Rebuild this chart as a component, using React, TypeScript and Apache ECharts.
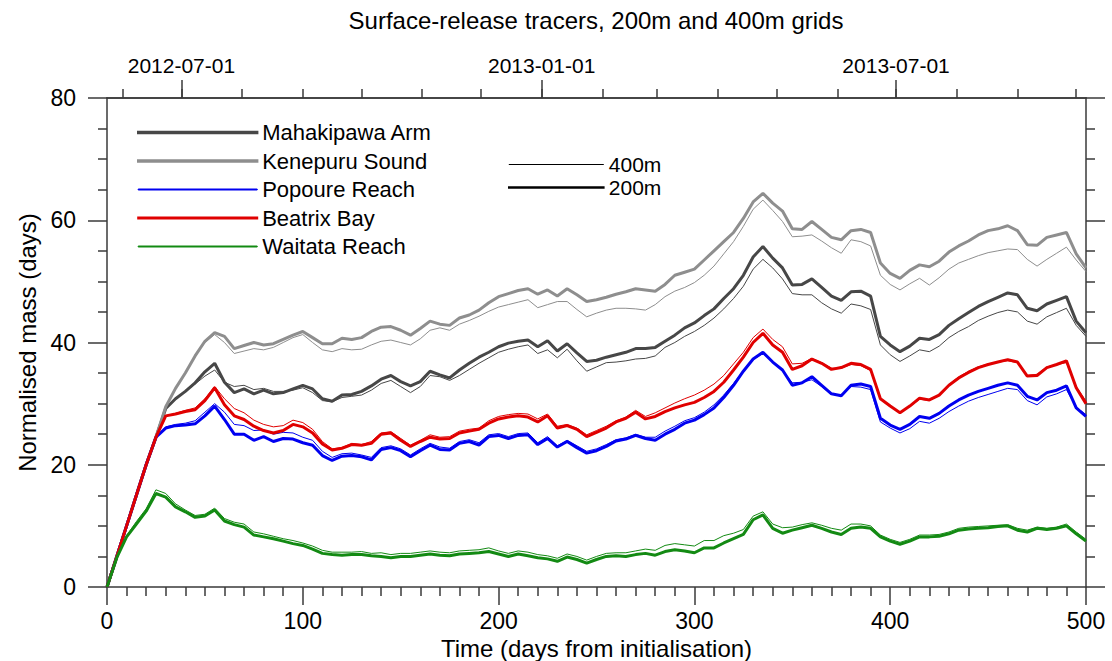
import { useEffect, useRef } from 'react';
import * as echarts from 'echarts';

// Sampling step of the tracer-mass records (days since initialisation).
const STEP = 5;

const REGIONS = ['Mahakipawa Arm', 'Kenepuru Sound', 'Popoure Reach', 'Beatrix Bay', 'Waitata Reach'];
const COLORS = ['#474747', '#8e8e8e', '#0000f0', '#e00000', '#138a13'];
const LEGEND_THICKNESS = [3.4, 3.4, 2, 3, 2];

// Normalised tracer mass (days), 200 m grid.
const MAHAKIPAWA_200 = [0, 5, 10, 15, 20, 24.5, 29.2, 30.8, 32, 33.4, 35.2, 36.6, 33.5, 31.8, 32.4, 31.6, 32.2, 31.6, 31.8, 32.4, 33, 32.4, 30.8, 30.4, 31.4, 31.5, 32, 32.9, 34, 34.6, 33.6, 32.9, 33.6, 35.3, 34.7, 34.2, 35.5, 36.6, 37.6, 38.4, 39.3, 39.9, 40.2, 40.4, 39.3, 40.3, 38.6, 39.8, 38.3, 36.9, 37.1, 37.6, 38, 38.4, 39, 39, 39.2, 40.2, 41.2, 42.4, 43.2, 44.4, 45.5, 47.2, 48.8, 51, 54, 55.7, 53.8, 52.2, 49.4, 49.5, 50.4, 49, 47.6, 46.9, 48.3, 48.4, 47.6, 41, 39.6, 38.5, 39.4, 40.7, 40.5, 41.3, 42.8, 43.9, 44.9, 45.9, 46.7, 47.4, 48.1, 47.8, 45.6, 45.2, 46.3, 46.9, 47.5, 43.5, 41.6];
const KENEPURU_200 = [0, 5, 10, 15, 20, 24.5, 29.5, 32.5, 35, 37.8, 40.2, 41.6, 41, 39, 39.5, 40, 39.6, 39.8, 40.5, 41.2, 41.8, 40.8, 39.8, 39.8, 40.7, 40.5, 40.8, 41.8, 42.5, 42.6, 42, 41.2, 42.3, 43.5, 43, 42.8, 44, 44.5, 45.3, 46.5, 47.5, 48, 48.5, 48.8, 47.9, 48.6, 47.6, 48.8, 47.8, 46.7, 47, 47.4, 47.9, 48.3, 48.8, 48.6, 48.4, 49.5, 51, 51.5, 52, 53.5, 55, 56.5, 58, 60.3, 63, 64.4, 62.8, 61.5, 58.6, 58.5, 59.8, 58.5, 57.2, 56.8, 58.3, 58.5, 58, 53, 51.3, 50.5, 51.8, 52.7, 52.4, 53.3, 54.8, 55.8, 56.6, 57.6, 58.3, 58.6, 59.1, 58.3, 56, 55.9, 57.2, 57.6, 58, 54.5, 52.2];
const POPOURE_200 = [0, 5, 10, 15, 20, 24.5, 26, 26.4, 26.5, 26.7, 28, 29.6, 27.4, 25, 25, 24, 24.6, 23.8, 24.3, 24.2, 23.6, 23.2, 21.5, 20.7, 21.4, 21.5, 21.3, 20.8, 22.5, 22.8, 22.3, 21.3, 22.3, 23.2, 22.5, 22.4, 23.5, 23.8, 23.2, 24.6, 24.8, 24.3, 24.8, 24.9, 23.3, 24.3, 22.9, 23.8, 22.8, 21.9, 22.3, 23, 23.9, 24.2, 24.8, 24.3, 24, 25, 25.8, 26.8, 27.3, 28.2, 29.3, 31, 33, 35.3, 37.3, 38.4, 36.8, 35.5, 33, 33.4, 34.4, 33, 31.6, 31.3, 33, 33.2, 32.8, 27.6, 26.5, 25.8, 26.6, 27.9, 27.6, 28.4, 29.6, 30.6, 31.4, 32, 32.5, 33, 33.4, 33, 31.2, 30.6, 31.8, 32.2, 32.9, 29.3, 27.9];
const BEATRIX_200 = [0, 5, 10, 15, 20, 24.5, 28, 28.3, 28.7, 29, 30.5, 32.6, 29.8, 28, 27.4, 26.3, 25.6, 25.2, 25.6, 26.6, 26.2, 25.2, 23.4, 22.4, 22.7, 23.3, 23.2, 23.5, 25, 25.2, 24, 23, 23.8, 24.5, 24.2, 24.3, 25.2, 25.5, 25.8, 26.8, 27.5, 27.8, 28, 27.8, 27, 28, 26, 26.4, 25.8, 24.6, 25.3, 26, 27, 27.6, 28.6, 27.5, 27.9, 28.7, 29.3, 29.8, 30.2, 31, 32, 33.5, 35.5, 37.6, 40, 41.5, 39.6, 38.4, 35.6, 36.2, 37.3, 36.6, 35.6, 35.9, 36.6, 36.4, 35.6, 30.8, 29.6, 28.5, 29.6, 30.9, 30.6, 31.4, 33, 34.2, 35.1, 35.9, 36.4, 36.8, 37.2, 36.8, 34.5, 34.6, 35.9, 36.4, 37, 32.6, 30];
const WAITATA_200 = [0, 4.8, 8.2, 10.3, 12.4, 15.3, 14.7, 13.1, 12.3, 11.4, 11.6, 12.6, 10.8, 10.2, 9.8, 8.5, 8.2, 7.9, 7.5, 7.1, 6.8, 6.2, 5.5, 5.3, 5.2, 5.3, 5.3, 5.1, 5, 4.8, 5, 5, 5.2, 5.4, 5.2, 5.1, 5.4, 5.5, 5.6, 5.8, 5.4, 5, 5.4, 5.1, 4.8, 4.6, 4.2, 4.9, 4.5, 3.9, 4.5, 5, 5.1, 5, 5.3, 5.5, 5.2, 5.8, 6.1, 5.9, 5.6, 6.4, 6.4, 7.2, 7.9, 8.6, 11, 11.8, 9.6, 8.8, 9.3, 9.7, 10.1, 9.6, 9, 8.6, 9.6, 9.8, 9.6, 8.2, 7.5, 7, 7.5, 8.2, 8.2, 8.3, 8.7, 9.3, 9.5, 9.6, 9.7, 9.9, 10, 9.3, 9, 9.6, 9.4, 9.6, 10, 8.7, 7.5];

// Normalised tracer mass (days), 400 m grid.
const MAHAKIPAWA_400 = [0, 5, 10, 15, 20, 24.5, 29.2, 30.8, 32, 33.2, 34.5, 35.5, 33.5, 32.8, 33, 32.3, 32.5, 32, 32, 32.2, 32.6, 31.8, 30.5, 30.3, 31, 31.2, 31.4, 32.2, 33.3, 33.8, 32.8, 31.8, 32.8, 34.6, 34.4, 33.8, 34.6, 35.6, 36.6, 37.5, 38.4, 38.9, 39.3, 39.6, 38.2, 38.8, 37.5, 38.9, 37, 35.3, 36, 36.7, 36.8, 37, 37.3, 37.4, 37.8, 39.2, 40, 41, 41.8, 42.8, 44, 45.5, 47.2, 49.2, 52, 53.6, 52.2, 50.4, 48, 47.8, 47.8, 46.5, 45.5, 44.8, 46.3, 46, 45.4, 39.6, 38, 36.9, 37.8, 38.8, 38.5, 39.4, 40.8, 41.8, 42.6, 43.6, 44.3, 44.9, 45.3, 45, 43.5, 43, 44.2, 44.9, 45.6, 42.8, 41];
const KENEPURU_400 = [0, 5, 10, 15, 20, 24.5, 29.5, 32.5, 35, 37.8, 40, 41.3, 40, 38.2, 38.6, 39, 38.8, 39.2, 40, 40.8, 41.3, 40, 38.8, 38.5, 39, 38.8, 38.9, 39.6, 40.2, 40.4, 40, 39.6, 40.6, 42, 42.4, 42, 43, 43.6, 44.3, 45.1, 45.8, 46.2, 46.6, 47, 45.7, 46.2, 46.7, 46.7, 45.4, 44.2, 44.8, 45.3, 45.6, 45.6, 45.5, 45.3, 46.2, 47.5, 48.4, 49, 49.8, 51, 52.5, 54.5, 56.5, 59, 61.8, 63.3, 61.6, 59.8, 57.3, 57.4, 57.6, 56.6, 55.5, 54.6, 56.8, 56.5, 55.8, 51, 49.5, 48.6, 49.6, 50.5, 49.4, 50.6, 52, 53, 53.6, 54.2, 54.7, 55, 55.3, 55.2, 53.6, 52.5, 53.6, 54.6, 55.6, 53.5, 51.6];
const POPOURE_400 = [0, 5, 10, 15, 20, 24.5, 26.2, 26.6, 26.8, 27.2, 28.6, 30, 28.6, 26.6, 26.4, 25.6, 25.7, 25, 25.3, 25.2, 24.5, 24, 22.2, 21.2, 21.8, 21.9, 21.6, 21.2, 22.8, 23.1, 22.6, 21.6, 22.6, 23.5, 22.9, 22.7, 23.8, 24.1, 23.6, 24.9, 25.1, 24.6, 25.1, 25.2, 23.6, 24.6, 23.1, 24, 23.1, 22.2, 22.6, 23.3, 24.1, 24.4, 25, 24.5, 24.5, 25.5, 26.3, 27.2, 27.7, 28.6, 29.8, 31.4, 33.3, 35.4, 37.2, 38.2, 36.9, 35.4, 33.4, 33.5, 33.9, 32.8, 31.5, 31.5, 32.8, 32.7, 32.3, 27, 26, 25.2, 25.9, 27.1, 26.8, 27.6, 28.7, 29.6, 30.4, 31, 31.5, 32, 32.5, 32.3, 30.5, 29.8, 31.1, 31.6, 32.3, 29.4, 28.2];
const BEATRIX_400 = [0, 5, 10, 15, 20, 24.5, 28, 28.4, 28.9, 29.3, 30.8, 32.8, 30.8, 29.2, 28.5, 27.3, 26.6, 26.2, 26.4, 27.3, 26.9, 25.8, 23.8, 22.6, 22.8, 23.5, 23.3, 23.8, 25.2, 25.4, 24.3, 23.2, 24, 24.9, 24.5, 24.6, 25.5, 25.8, 26, 27.2, 27.9, 28.2, 28.4, 28.3, 27.5, 28.3, 26.3, 26.6, 26, 24.9, 25.6, 26.3, 27.2, 27.8, 28.9, 27.9, 28.5, 29.3, 30.1, 30.8, 31.4, 32.2, 33.2, 34.6, 36.5, 38.4, 40.8, 42.2, 40.5, 39.3, 36.5, 36.6, 37.4, 36.7, 35.8, 35.8, 36.4, 36.2, 35.4, 30.9, 29.5, 28.5, 29.5, 30.7, 30.5, 31.5, 33.1, 34.4, 35.3, 36, 36.5, 36.8, 37, 36.7, 34.6, 34.8, 36, 36.4, 36.7, 32.8, 30.4];
const WAITATA_400 = [0, 4.8, 8.4, 10.7, 12.8, 15.9, 15.3, 13.6, 12.6, 11.7, 11.9, 12.9, 11.2, 10.6, 10.3, 9, 8.7, 8.3, 7.9, 7.6, 7.2, 6.7, 6, 5.7, 5.7, 5.7, 5.8, 5.5, 5.6, 5.3, 5.5, 5.5, 5.7, 5.9, 5.7, 5.6, 5.9, 6, 6.1, 6.4, 5.9, 5.5, 5.9, 5.7, 5.3, 5.1, 4.7, 5.4, 5, 4.4, 5, 5.5, 5.6, 5.6, 5.9, 6.2, 6, 6.8, 7.1, 6.9, 6.7, 7.6, 7.6, 8.4, 8.8, 9.4, 11.6, 12.3, 10.3, 9.7, 9.8, 10.2, 10.5, 10.1, 9.6, 9.3, 10.3, 10.3, 10, 8.5, 7.8, 7.3, 7.8, 8.5, 8.5, 8.6, 9, 9.6, 9.8, 9.9, 10, 10.1, 10.2, 9.6, 9.3, 9.8, 9.6, 9.8, 10.3, 9, 7.8];

const GRID_200 = [MAHAKIPAWA_200, KENEPURU_200, POPOURE_200, BEATRIX_200, WAITATA_200];
const GRID_400 = [MAHAKIPAWA_400, KENEPURU_400, POPOURE_400, BEATRIX_400, WAITATA_400];

// Calendar axis along the top: day 0 is the release date.
const RELEASE_DATE = '2012-05-24';
const TOP_LABELS = ['2012-07-01', '2013-01-01', '2013-07-01'];
const FIRST_MONTH = '2012-06-01';
const MONTH_COUNT = 17;

const X_TICKS = [0, 100, 200, 300, 400, 500];
const Y_TICKS = [0, 20, 40, 60, 80];

const FONT = '"Liberation Sans", Arial, Helvetica, sans-serif';
const AXIS_COLOR = '#3a3a3a';
const DAY_MS = 86400000;

const dayOf = (iso: string) => (Date.parse(iso + 'T00:00:00Z') - Date.parse(RELEASE_DATE + 'T00:00:00Z')) / DAY_MS;

function monthTickDays(): number[] {
  const [y, m] = FIRST_MONTH.split('-').map(Number);
  const out: number[] = [];
  for (let k = 0; k < MONTH_COUNT; k++) {
    const t = Date.UTC(y, m - 1 + k, 1);
    const d = (t - Date.parse(RELEASE_DATE + 'T00:00:00Z')) / DAY_MS;
    if (d >= 0 && d <= X_TICKS[X_TICKS.length - 1]) out.push(d);
  }
  return out;
}

const toPoints = (vals: number[]) => vals.map((v, i) => [i * STEP, v]);

export default function App() {
  const ref = useRef<HTMLDivElement>(null);

  useEffect(() => {
    if (!ref.current) return;
    const chart = echarts.init(ref.current, undefined, { renderer: 'svg' });
    const xMax = X_TICKS[X_TICKS.length - 1];
    const yMax = Y_TICKS[Y_TICKS.length - 1];
    const axisLine = { show: true, onZero: false, lineStyle: { color: AXIS_COLOR, width: 1.5 } };
    const tickStyle = { color: AXIS_COLOR, width: 1.5 };
    const labelDays = TOP_LABELS.map(dayOf);

    const series: any[] = [];
    REGIONS.forEach((name, i) => {
      series.push({
        name, type: 'line', data: toPoints(GRID_400[i]), showSymbol: false, symbol: 'none',
        lineStyle: { color: COLORS[i], width: 1 }, itemStyle: { color: COLORS[i] }, z: 2,
      });
      series.push({
        name, type: 'line', data: toPoints(GRID_200[i]), showSymbol: false, symbol: 'none',
        lineStyle: { color: COLORS[i], width: 3 }, itemStyle: { color: COLORS[i] }, z: 3,
      });
    });
    // Key entries for the two grid resolutions.
    series.push({ name: '400m', type: 'line', data: [], lineStyle: { color: '#000', width: 1 }, itemStyle: { color: '#000' } });
    series.push({ name: '200m', type: 'line', data: [], lineStyle: { color: '#000', width: 3 }, itemStyle: { color: '#000' } });

    chart.setOption({
      animation: false,
      backgroundColor: '#fff',
      textStyle: { fontFamily: FONT, color: '#000' },
      title: {
        text: 'Surface-release tracers, 200m and 400m grids',
        left: 596, top: 8, textAlign: 'center', padding: 0,
        textStyle: { fontFamily: FONT, fontSize: 24, fontWeight: 'normal', color: '#000' },
      },
      legend: [
        {
          orient: 'vertical', left: 137, top: 121.5, padding: 0, itemWidth: 119, itemHeight: 1, itemGap: 6.5,
          icon: 'rect', selectedMode: false,
          textStyle: { fontFamily: FONT, fontSize: 22, color: '#000' },
          data: REGIONS.map((name, i) => ({
            name, icon: 'rect',
            itemStyle: { color: COLORS[i], borderColor: COLORS[i], borderWidth: LEGEND_THICKNESS[i] - 1 },
          })),
        },
        {
          orient: 'vertical', left: 508, top: 154, padding: 0, itemWidth: 95, itemHeight: 1, itemGap: 2,
          icon: 'rect', selectedMode: false,
          textStyle: { fontFamily: FONT, fontSize: 21, color: '#000' },
          data: [
            { name: '400m', icon: 'rect', itemStyle: { color: '#000', borderColor: '#000', borderWidth: 0 } },
            { name: '200m', icon: 'rect', itemStyle: { color: '#000', borderColor: '#000', borderWidth: 1.6 } },
          ],
        },
      ],
      grid: { left: 107, right: 26, top: 98, bottom: 74, containLabel: false, outerBoundsMode: 'none' },
      xAxis: [
        {
          type: 'value', position: 'bottom', min: 0, max: xMax, interval: X_TICKS[1] - X_TICKS[0],
          name: 'Time (days from initialisation)', nameLocation: 'middle', nameGap: 47,
          nameTextStyle: { fontFamily: FONT, fontSize: 24, color: '#000' },
          axisLine, axisTick: { show: true, length: 18, lineStyle: tickStyle },
          minorTick: { show: true, splitNumber: 10, length: 9, lineStyle: tickStyle },
          axisLabel: { fontFamily: FONT, fontSize: 23, color: '#000', margin: 22 },
          splitLine: { show: false },
        },
        {
          type: 'value', position: 'top', min: 0, max: xMax,
          axisLine,
          axisTick: { show: true, length: 9, lineStyle: tickStyle, customValues: monthTickDays() },
          axisLabel: { show: false }, splitLine: { show: false },
        },
        {
          type: 'value', position: 'top', min: 0, max: xMax,
          axisLine,
          axisTick: { show: true, length: 18, lineStyle: tickStyle, customValues: labelDays },
          axisLabel: {
            show: true, customValues: labelDays, margin: 22,
            fontFamily: FONT, fontSize: 21, color: '#000',
            formatter: (v: number) => {
              const idx = labelDays.findIndex((d) => Math.abs(d - v) < 0.5);
              return idx >= 0 ? TOP_LABELS[idx] : '';
            },
          },
          splitLine: { show: false },
        },
      ],
      yAxis: [
        {
          type: 'value', position: 'left', min: 0, max: yMax, interval: Y_TICKS[1] - Y_TICKS[0],
          name: 'Normalised mass (days)', nameLocation: 'middle', nameGap: 62,
          nameTextStyle: { fontFamily: FONT, fontSize: 24, color: '#000' },
          axisLine, axisTick: { show: true, length: 19, lineStyle: tickStyle },
          minorTick: { show: true, splitNumber: 4, length: 9, lineStyle: tickStyle },
          axisLabel: { fontFamily: FONT, fontSize: 23, color: '#000', margin: 31 },
          splitLine: { show: false },
        },
        {
          type: 'value', position: 'right', min: 0, max: yMax, interval: Y_TICKS[1] - Y_TICKS[0],
          axisLine, axisTick: { show: true, length: 19, lineStyle: tickStyle },
          minorTick: { show: true, splitNumber: 4, length: 9, lineStyle: tickStyle },
          axisLabel: { show: false }, splitLine: { show: false },
        },
      ],
      series,
    });
    return () => chart.dispose();
  }, []);

  return <div ref={ref} style={{ position: 'fixed', left: 0, top: 0, width: 1112, height: 661 }} />;
}
